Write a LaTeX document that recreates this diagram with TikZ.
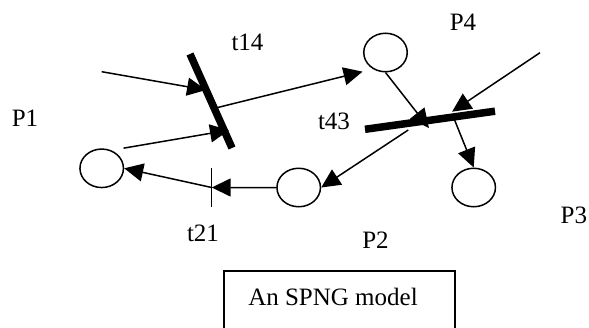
\documentclass[tikz,border=0pt]{standalone}
\usepackage{fontspec}
\setmainfont{Liberation Serif}
\usetikzlibrary{arrows.meta, calc, shapes.geometric}

\begin{document}
\begin{tikzpicture}[x=1pt, y=-1pt,
		place/.style={draw, ellipse, line width=1.5pt, minimum width=43.5pt, minimum height=38.5pt, inner sep=0pt},
		tbar/.style={line width=7.5pt},
		arc/.style={line width=1.5pt, -{Triangle[length=19pt, width=18pt]}},
		lbl/.style={anchor=base, inner sep=0pt, font=\fontsize{25}{30}\selectfont}]
	\clip (0,0) rectangle (589,327);
	% places
	\node[place] (p1) at (101.7,168.3) {};
	\node[place] (p2) at (298.7,187.5) {};
	\node[place] (p3) at (473.7,187.5) {};
	\node[place] (p4) at (385.5,52.5) {};
	% transitions
	\coordinate (t14a) at (190,54);
	\coordinate (t14b) at (232,148);
	\draw[tbar] (t14a) -- (t14b);
	\coordinate (t43a) at (365,129.3);
	\coordinate (t43b) at (495,111.2);
	\draw[tbar] (t43a) -- (t43b);
	\coordinate (t21a) at (211.7,168.3);
	\coordinate (t21b) at (211.7,206.7);
	\draw[line width=1.5pt] (t21a) -- (t21b);
	\coordinate (t21m) at ($(t21a)!0.5!(t21b)$);
	% points where the arcs meet the bars
	\coordinate (t14i1) at ($(t14a)!0.383!(t14b)$);
	\coordinate (t14i2) at ($(t14a)!0.81!(t14b)+(5,0)$);
	\coordinate (t14o) at ($(t14a)!0.578!(t14b)$);
	\coordinate (t43i1) at ($(t43a)!0.492!(t43b)+(0,7.6)$);
	\coordinate (t43i2) at ($(t43a)!0.67!(t43b)+(0,-5.5)$);
	\coordinate (t43o1) at ($(t43a)!0.68!(t43b)$);
	\coordinate (t43o2) at ($(t43a)!0.333!(t43b)+(0,6.7)$);
	% free arc ends
	\coordinate (in14) at (101.7,71.7);
	\coordinate (in43) at (540,52.7);
	% arcs
	\draw[arc] (in14) -- (t14i1);
	\draw[arc] ([shift={(6,-6)}]p1.north east) -- (t14i2);
	\draw[arc] (t14o) -- ([shift={(-7,5)}]p4.south west);
	\draw[arc] (p4.south) -- (t43i1);
	\draw[arc] (in43) -- (t43i2);
	\draw[arc] (t43o1) -- (p3.north);
	\draw[arc] (t43o2) -- (p2.east);
	\draw[arc] (p2.west) -- (t21m);
	\draw[arc] (t21m) -- (p1.east);
	% labels
	\node[lbl] (lp1) at (25,126.7) {P1};
	\node[lbl] (lp2) at (375.5,248.3) {P2};
	\node[lbl] (lp3) at (573.8,223.3) {P3};
	\node[lbl] (lp4) at (463,30) {P4};
	\node[lbl] (lt14) at (247.5,50) {t14};
	\node[lbl] (lt43) at (334,129.3) {t43};
	\node[lbl] (lt21) at (203,241.7) {t21};
	% caption frame, open at the bottom
	\node[lbl] (cap) at (333,305) {An SPNG model};
	\draw[line width=1.5pt] (224,335) -- (224,271) -- (455,271) -- (455,335);
\end{tikzpicture}
\end{document}
